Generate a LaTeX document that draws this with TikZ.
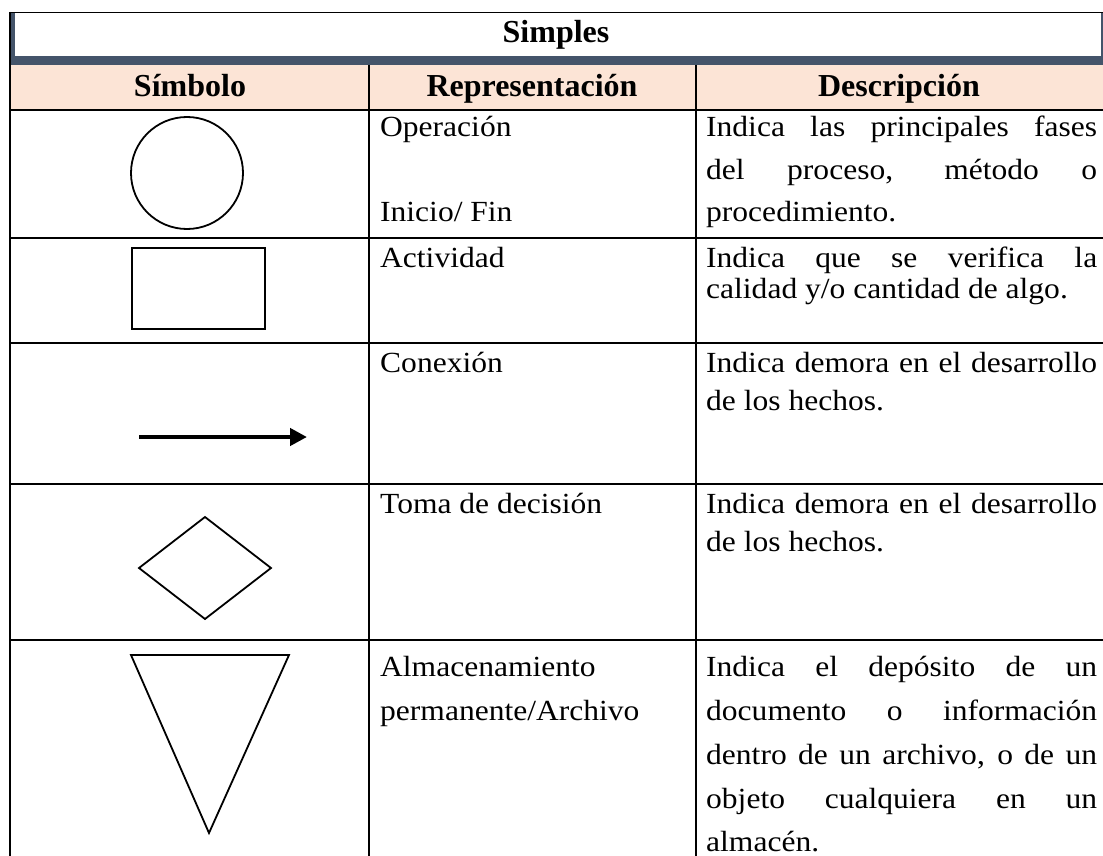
\documentclass[tikz,border=0pt]{standalone}
\usepackage{fontspec}
\setmainfont{Liberation Serif}[FakeStretch=1.08]
\newfontfamily\hdfont{Liberation Serif}
\usetikzlibrary{arrows.meta}
\definecolor{band}{HTML}{44546A}
\definecolor{hdpink}{HTML}{FCE4D6}
\newlength{\dcw}\setlength{\dcw}{391pt}
\newcommand{\jline}[1]{\makebox[\dcw][s]{#1}}
\tikzset{
  gridline/.style={line width=2pt, black},
  sym/.style={line width=1.8pt, black, line join=miter},
  body/.style={inner sep=0pt, anchor=base west, font=\fontsize{29.2}{30}\selectfont},
  head/.style={inner sep=0pt, anchor=base, font=\hdfont\bfseries\fontsize{32}{34}\selectfont},
}
\begin{document}
\begin{tikzpicture}[x=1pt,y=-1pt]
\useasboundingbox (0,0) rectangle (1103,856);
% title row
\fill[band] (10,12) rectangle (1103,65);
\fill[white] (15,13.5) rectangle (1100.5,56);
\draw[line width=1.5pt] (9,12.5) -- (1103,12.5);
\node[head] (ttl) at (556,43) {Simples};
% header row
\fill[hdpink] (10,65) rectangle (1103,110);
\node[head] (h1) at (190,97) {Símbolo};
\node[head] (h2) at (532,97) {Representación};
\node[head] (h3) at (899,97) {Descripción};
% grid
\draw[gridline] (10,12) -- (10,856);
\draw[gridline] (369,65) -- (369,856);
\draw[gridline] (696,65) -- (696,856);
\foreach \yy in {110,238,343,484,640} \draw[gridline] (9,\yy) -- (1103,\yy);
% row 1
\draw[sym] (187,173) ellipse [x radius=56, y radius=56];
\node[body] (r1a) at (380,137) {Operación};
\node[body] (r1b) at (380,221) {Inicio/ Fin};
\node[body] (r1c) at (706,137) {\jline{Indica las principales fases}};
\node[body] (r1d) at (706,179) {\jline{del proceso, método o}};
\node[body] (r1e) at (706,221) {procedimiento.};
% row 2
\draw[sym] (132,248) rectangle (265,329);
\node[body] (r2a) at (380,267) {Actividad};
\node[body] (r2c) at (706,267) {\jline{Indica que se verifica la}};
\node[body] (r2d) at (706,298) {calidad y/o cantidad de algo.};
% row 3
\coordinate (arrS) at (139,437);
\coordinate (arrE) at (307,437);
\draw[line width=4.5pt, -{Triangle[length=17pt,width=17pt]}] (arrS) -- (arrE);
\node[body] (r3a) at (380,372) {Conexión};
\node[body] (r3c) at (706,372) {\jline{Indica demora en el desarrollo}};
\node[body] (r3d) at (706,410) {de los hechos.};
% row 4
\draw[sym] (139,568) -- (205,517) -- (271,568) -- (205,619) -- cycle;
\node[body] (r4a) at (380,513) {Toma de decisión};
\node[body] (r4c) at (706,513) {\jline{Indica demora en el desarrollo}};
\node[body] (r4d) at (706,551) {de los hechos.};
% row 5
\draw[sym] (131,655) -- (289,655) -- (209,833) -- cycle;
\node[body] (r5a) at (380,676) {Almacenamiento};
\node[body] (r5b) at (380,720) {permanente/Archivo};
\node[body] (r5c) at (706,676) {\jline{Indica el depósito de un}};
\node[body] (r5d) at (706,720) {\jline{documento o información}};
\node[body] (r5e) at (706,764) {\jline{dentro de un archivo, o de un}};
\node[body] (r5f) at (706,808) {\jline{objeto cualquiera en un}};
\node[body] (r5g) at (706,851) {almacén.};
\end{tikzpicture}
\end{document}
